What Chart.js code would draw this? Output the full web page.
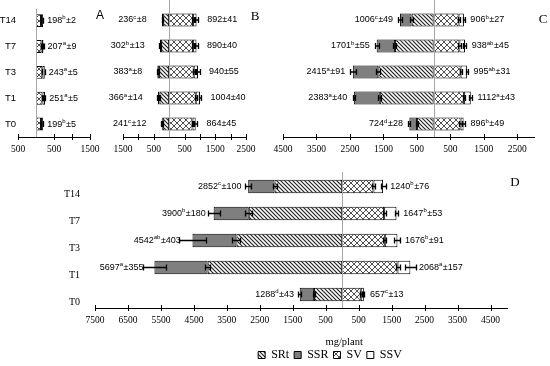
<!DOCTYPE html>
<html>
<head>
<meta charset="utf-8">
<script src="https://cdn.jsdelivr.net/npm/chart.js"></script>
<style>
  html, body { margin: 0; padding: 0; background: #fff; width: 550px; height: 366px; overflow: hidden; }
  .wrap { position: relative; width: 550px; height: 366px; overflow: hidden; }
  canvas { position: absolute; left: 0; top: 0; }
</style>
</head>
<body>
<div class="wrap">
  <canvas id="chartA" width="550" height="366"></canvas>
  <canvas id="chartB" width="550" height="366"></canvas>
  <canvas id="chartC" width="550" height="366"></canvas>
  <canvas id="chartD" width="660" height="376"></canvas>
</div>
<script>
  // treatments, top to bottom
  const rows = ['T14', 'T7', 'T3', 'T1', 'T0'];

  // Panel A (shoot side only)
  const aSV = [140, 150, 175, 180, 140];
  const aSSV = [58, 57, 68, 71, 59];
  const aShootVal = [198, 207, 243, 251, 199];
  const aShootSig = ['b', 'a', 'a', 'a', 'b'];
  const aShootErr = [2, 9, 5, 5, 5];
  const aSVErr = [5, 6, 5, 6, 5];
  const aTicks = [-500, 500, 1000, 1500];

  // Panel B
  const bSRt = [196, 262, 333, 311, 206];
  const bSSR = [40, 40, 50, 55, 35];
  const bSV = [780, 780, 800, 866, 760];
  const bSSV = [112, 110, 140, 138, 104];
  const bRootVal = [236, 302, 383, 366, 241];
  const bRootSig = ['c', 'b', 'a', 'a', 'c'];
  const bRootErr = [8, 13, 8, 14, 12];
  const bShootVal = [892, 890, 940, 1004, 864];
  const bShootSig = ['', '', '', '', ''];
  const bShootErr = [41, 40, 55, 40, 45];
  const bSRtErr = [10, 12, 10, 12, 8];
  const bSVErr = [30, 30, 35, 30, 30];
  const bTicks = [-1500, -1000, -500, 500, 1000, 1500, 2000, 2500];

  // Panel C
  const cSRt = [657, 1155, 1651, 1607, 494];
  const cSSR = [349, 546, 764, 776, 230];
  const cSV = [746, 770, 806, 905, 806];
  const cSSV = [160, 168, 189, 207, 90];
  const cRootVal = [1006, 1701, 2415, 2383, 724];
  const cRootSig = ['c', 'b', 'a', 'a', 'd'];
  const cRootErr = [49, 55, 91, 40, 28];
  const cShootVal = [906, 938, 995, 1112, 896];
  const cShootSig = ['b', 'ab', 'ab', 'a', 'b'];
  const cShootErr = [27, 45, 31, 43, 49];
  const cSRtErr = [40, 45, 60, 50, 30];
  const cSVErr = [30, 35, 30, 40, 35];
  const cTicks = [-4500, -3500, -2500, -1500, -500, 500, 1500, 2500];

  // Panel D
  const dSRt = [2053, 2835, 3210, 4083, 858];
  const dSSR = [799, 1065, 1332, 1614, 430];
  const dSV = [949, 1272, 1293, 1679, 563];
  const dSSV = [291, 375, 383, 389, 94];
  const dRootVal = [2852, 3900, 4542, 5697, 1288];
  const dRootSig = ['c', 'b', 'ab', 'a', 'd'];
  const dRootErr = [100, 180, 403, 355, 43];
  const dShootVal = [1240, 1647, 1676, 2068, 657];
  const dShootSig = ['b', 'b', 'b', 'a', 'c'];
  const dShootErr = [76, 53, 91, 157, 13];
  const dSRtErr = [60, 110, 120, 75, 40];
  const dSVErr = [50, 45, 40, 60, 30];
  const dTicks = [-7500, -6500, -5500, -4500, -3500, -2500, -1500, -500, 500, 1500, 2500, 3500, 4500];

  // fill patterns
  function makePattern(size, draw) {
    const c = document.createElement('canvas');
    c.width = size; c.height = size;
    const g = c.getContext('2d');
    g.fillStyle = '#fff';
    g.fillRect(0, 0, size, size);
    draw(g, size);
    return g.createPattern(c, 'repeat');
  }
  const hatch = makePattern(4, (g, s) => {
    g.strokeStyle = '#222'; g.lineWidth = 1.2;
    g.beginPath();
    g.moveTo(-1, -1); g.lineTo(s + 1, s + 1);
    g.moveTo(-1, s - 1); g.lineTo(1, s + 1);
    g.moveTo(s - 1, -1); g.lineTo(s + 1, 1);
    g.stroke();
  });
  const cross = makePattern(6, (g, s) => {
    g.strokeStyle = '#3c3c3c'; g.lineWidth = 0.9;
    g.beginPath();
    g.moveTo(0, 0); g.lineTo(s, s);
    g.moveTo(s, 0); g.lineTo(0, s);
    g.stroke();
  });

  function errBar(ctx, x, v, e, yc) {
    const a = Math.round(x.getPixelForValue(v - e)) + 0.5;
    const b = Math.round(x.getPixelForValue(v + e)) + 0.5;
    ctx.beginPath();
    ctx.moveTo(a, yc); ctx.lineTo(b, yc);
    ctx.moveTo(a, yc - 3); ctx.lineTo(a, yc + 3);
    ctx.moveTo(b, yc - 3); ctx.lineTo(b, yc + 3);
    ctx.stroke();
  }

  function drawLabel(ctx, xEdge, yc, align, num, sig, err) {
    const main = '9px "Liberation Sans"', sup = '6px "Liberation Sans"';
    ctx.font = main;
    const w1 = ctx.measureText(String(num)).width;
    const tail = '\u00b1' + err;
    const w3 = ctx.measureText(tail).width;
    ctx.font = sup;
    const w2 = sig ? ctx.measureText(sig).width + 0.5 : 0;
    const xs = align === 'right' ? xEdge - (w1 + w2 + w3) : xEdge;
    ctx.textBaseline = 'middle';
    ctx.textAlign = 'left';
    ctx.fillStyle = '#000';
    ctx.font = main;
    ctx.fillText(String(num), xs, yc);
    if (sig) { ctx.font = sup; ctx.fillText(sig, xs + w1, yc - 3); }
    ctx.font = main;
    ctx.fillText(tail, xs + w1 + w2, yc);
  }

  function decorPlugin(p) {
    return {
      id: 'decor',
      afterDatasetsDraw(chart) {
        const ctx = chart.ctx, x = chart.scales.x, y = chart.scales.y, area = chart.chartArea;
        const x0 = Math.round(x.getPixelForValue(0)) + 0.5;
        ctx.save();
        // vertical axis at zero
        ctx.strokeStyle = '#a6a6a6';
        ctx.lineWidth = 1;
        ctx.beginPath();
        ctx.moveTo(x0, area.top - p.lineUp);
        ctx.lineTo(x0, area.bottom);
        ctx.stroke();

        ctx.strokeStyle = '#000';
        ctx.lineWidth = 1.3;
        const unit = Math.abs(x.getPixelForValue(1000) - x.getPixelForValue(0)) / 1000;
        rows.forEach((r, i) => {
          const yc = y.getPixelForValue(i);
          if (p.srt) {
            const tot = p.srt[i] + p.ssr[i];
            errBar(ctx, x, -p.srt[i], p.srtErr[i], yc);
            errBar(ctx, x, -tot, p.rootErr[i], yc);
            const edge = x.getPixelForValue(-tot) - p.gapL - p.rootErr[i] * unit * 0.5;
            drawLabel(ctx, edge, yc, 'right', p.rootVal[i], p.rootSig[i], p.rootErr[i]);
          }
          const tot = p.sv[i] + p.ssv[i];
          errBar(ctx, x, p.sv[i], p.svErr[i], yc);
          errBar(ctx, x, tot, p.shootErr[i], yc);
          const edge = x.getPixelForValue(tot) + p.gapR + p.shootErr[i] * unit * 0.5;
          drawLabel(ctx, edge, yc, 'left', p.shootVal[i], p.shootSig[i], p.shootErr[i]);
        });
        ctx.restore();
      },
      afterDraw(chart) {
        const ctx = chart.ctx, x = chart.scales.x, area = chart.chartArea;
        ctx.save();
        // cross tick marks
        ctx.strokeStyle = '#000';
        ctx.lineWidth = 1;
        ctx.beginPath();
        x.ticks.forEach(t => {
          const px = Math.round(x.getPixelForValue(t.value)) + 0.5;
          ctx.moveTo(px, area.bottom - 3);
          ctx.lineTo(px, area.bottom + 3);
        });
        ctx.stroke();
        // panel letter
        ctx.fillStyle = '#000';
        ctx.textAlign = 'center';
        ctx.textBaseline = 'middle';
        ctx.font = p.letter.font;
        ctx.fillText(p.letter.text, p.letter.x, p.letter.y);
        if (p.unitTitle) {
          ctx.font = '10.5px "Liberation Serif"';
          ctx.fillText(p.unitTitle, x.getPixelForValue(0) + 2, 342);
        }
        ctx.restore();
      }
    };
  }

  function buildPanel(id, p) {
    const neg = arr => (arr ? arr.map(v => -v) : []);
    const datasets = [
      { label: 'SRt', data: neg(p.srt), backgroundColor: hatch },
      { label: 'SSR', data: neg(p.ssr), backgroundColor: '#7f7f7f' },
      { label: 'SV', data: p.sv, backgroundColor: cross },
      { label: 'SSV', data: p.ssv, backgroundColor: '#ffffff' }
    ].map(d => Object.assign(d, {
      yAxisID: 'y',
      borderColor: '#000',
      borderWidth: 1,
      borderSkipped: false,
      barPercentage: 0.5,
      categoryPercentage: 1
    }));

    const W = p.W, H = p.H;
    const scales = {
      x: {
        type: 'linear',
        stacked: true,
        min: p.min,
        max: p.max,
        afterBuildTicks: s => { s.ticks = p.ticks.map(v => ({ value: v })); },
        afterFit: s => { s.height = p.xh; },
        grid: { display: false, drawTicks: false },
        border: { display: true, color: '#000', width: 1 },
        ticks: {
          padding: 7,
          color: '#000',
          autoSkip: false,
          maxRotation: 0,
          font: { family: 'Liberation Serif', size: 9.5 },
          callback: v => ((Math.abs(v) / 500) % 2 === 1 ? String(Math.abs(v)) : '')
        }
      },
      y: {
        type: 'category',
        stacked: true,
        display: p.yLabels,
        afterFit: s => { s.width = p.yw; },
        grid: { display: false, drawTicks: false },
        border: { display: false },
        ticks: {
          color: '#000',
          padding: p.yPad,
          labelOffset: p.yOffset,
          font: p.yFont
        }
      }
    };
    if (p.rightW) {
      scales.yR = {
        type: 'linear',
        position: 'right',
        display: true,
        afterFit: s => { s.width = p.rightW; },
        grid: { display: false, drawTicks: false },
        border: { display: false },
        ticks: { display: false }
      };
    }

    return new Chart(document.getElementById(id), {
      type: 'bar',
      data: { labels: rows, datasets },
      options: {
        indexAxis: 'y',
        responsive: false,
        animation: false,
        events: [],
        layout: {
          padding: {
            left: p.l - (p.yLabels ? p.yw : 0),
            right: W - p.r - (p.rightW || 0),
            top: p.t,
            bottom: H - p.b - p.xh - (p.legendH || 0)
          }
        },
        scales,
        plugins: {
          tooltip: { enabled: false },
          legend: {
            display: !!p.legend,
            position: 'bottom',
            align: 'center',
            labels: {
              boxWidth: 7,
              boxHeight: 7,
              padding: 5,
              color: '#000',
              font: { family: 'Liberation Serif', size: 12 }
            }
          }
        }
      },
      plugins: [decorPlugin(p)]
    });
  }

  buildPanel('chartA', {
    W: 550, H: 366, l: 18, r: 90, t: 7, b: 137, xh: 20, yw: 18,
    min: -500, max: 1500, ticks: aTicks,
    yLabels: true, yPad: 2, yOffset: 0, yFont: { family: 'Liberation Sans', size: 9.5 },
    sv: aSV, ssv: aSSV, svErr: aSVErr,
    shootVal: aShootVal, shootSig: aShootSig, shootErr: aShootErr,
    gapR: 4, lineUp: -1,
    letter: { text: 'A', x: 100, y: 16, font: '12px "Liberation Sans"' }
  });

  buildPanel('chartB', {
    W: 550, H: 366, l: 123, r: 246, t: 7, b: 137, xh: 20, yw: 0,
    min: -1500, max: 2500, ticks: bTicks, yLabels: false,
    srt: bSRt, ssr: bSSR, srtErr: bSRtErr,
    rootVal: bRootVal, rootSig: bRootSig, rootErr: bRootErr,
    sv: bSV, ssv: bSSV, svErr: bSVErr,
    shootVal: bShootVal, shootSig: bShootSig, shootErr: bShootErr,
    gapL: 15, gapR: 10, lineUp: 7,
    letter: { text: 'B', x: 255, y: 17, font: '13px "Liberation Serif"' }
  });

  buildPanel('chartC', {
    W: 550, H: 366, l: 283, r: 534, t: 7, b: 137, xh: 20, yw: 0,
    min: -4500, max: 3000, ticks: cTicks, yLabels: false,
    srt: cSRt, ssr: cSSR, srtErr: cSRtErr,
    rootVal: cRootVal, rootSig: cRootSig, rootErr: cRootErr,
    sv: cSV, ssv: cSSV, svErr: cSVErr,
    shootVal: cShootVal, shootSig: cShootSig, shootErr: cShootErr,
    gapL: 6, gapR: 6, lineUp: 7,
    letter: { text: 'C', x: 543, y: 20, font: '13px "Liberation Serif"' }
  });

  buildPanel('chartD', {
    W: 660, H: 376, l: 95, r: 507, t: 173, b: 308, xh: 36, yw: 95, rightW: 153,
    legend: true, legendH: 27,
    min: -7500, max: 5000, ticks: dTicks,
    yLabels: true, yPad: 15, yOffset: 8, yFont: { family: 'Liberation Serif', size: 10 },
    srt: dSRt, ssr: dSSR, srtErr: dSRtErr,
    rootVal: dRootVal, rootSig: dRootSig, rootErr: dRootErr,
    sv: dSV, ssv: dSSV, svErr: dSVErr,
    shootVal: dShootVal, shootSig: dShootSig, shootErr: dShootErr,
    gapL: 5, gapR: 6, lineUp: 1,
    unitTitle: 'mg/plant',
    letter: { text: 'D', x: 515, y: 183, font: '13px "Liberation Serif"' }
  });
</script>
</body>
</html>
